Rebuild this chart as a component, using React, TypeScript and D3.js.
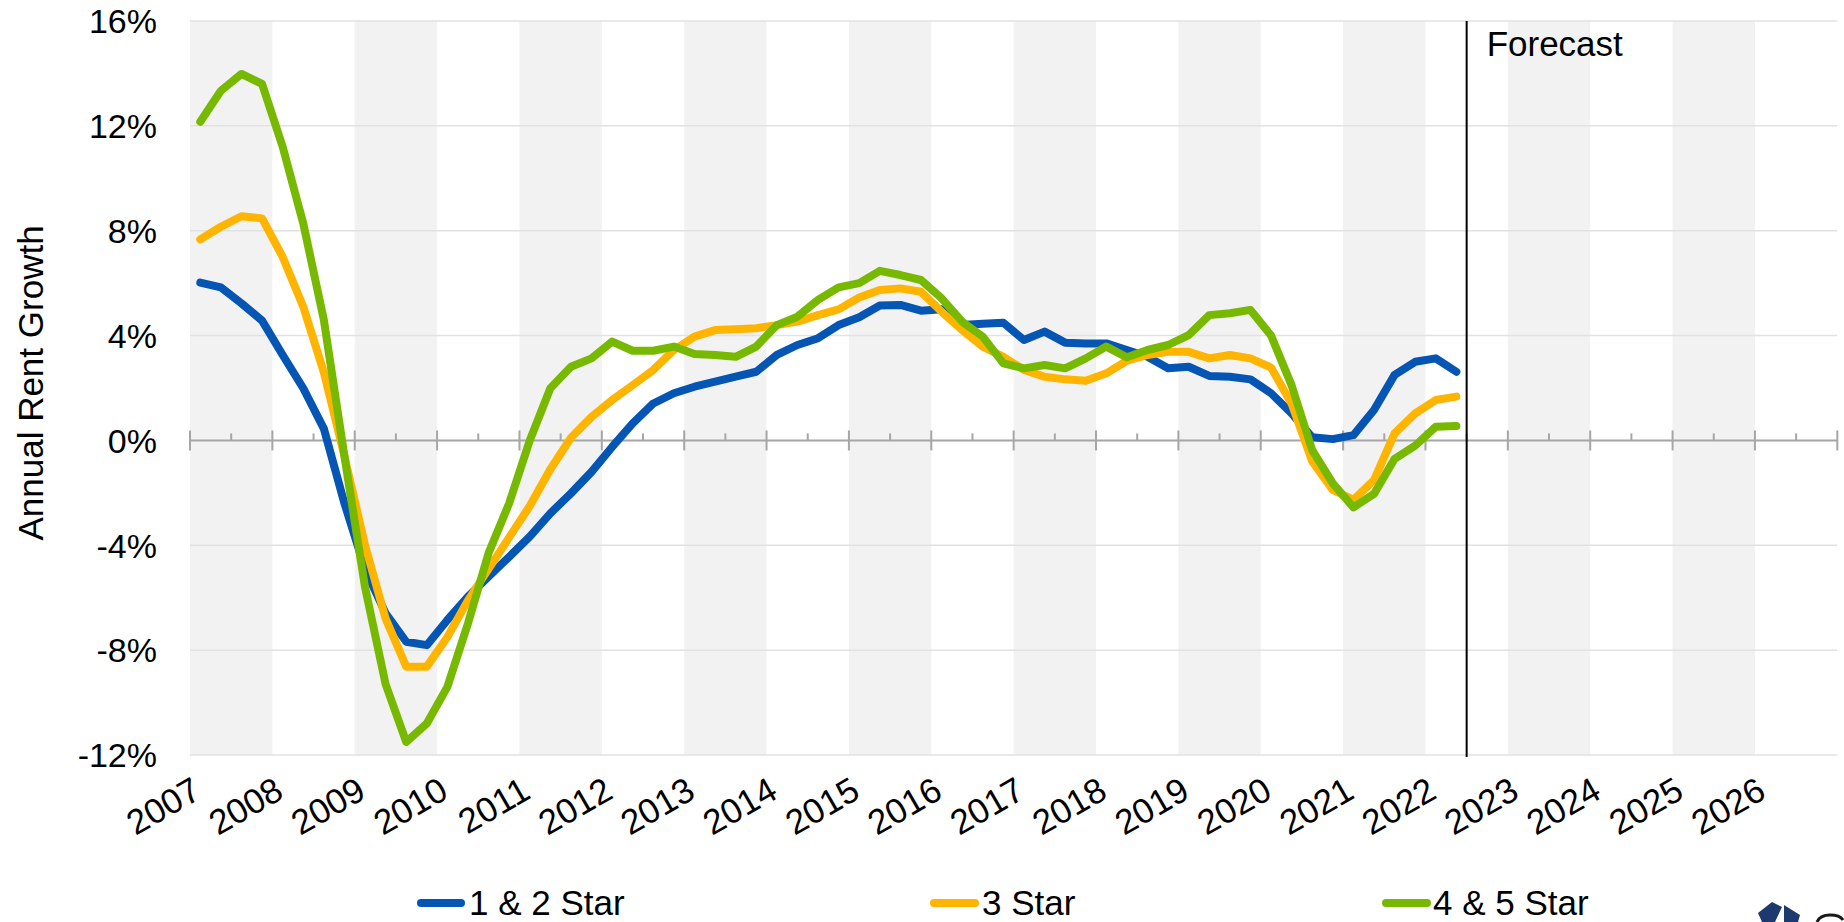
import React, { useEffect } from 'react';
import * as d3 from 'd3';

// ---- data (quarterly, 2007 Q1 .. 2022 Q2) ----
const yearLabels = d3.range(2007, 2027).map(String);
const yTickValues = [-12, -8, -4, 0, 4, 8, 12, 16];
const seriesNames = ['1 & 2 Star', '3 Star', '4 & 5 Star'];
const seriesColors = ['#0455B4', '#FFB400', '#77B900'];
const forecastLabel = 'Forecast';
const forecastStart = 2022.5;

const star12 = [
  6.02, 5.84, 5.23, 4.57, 3.26, 1.99, 0.45, -2.4,
  -4.9, -6.6, -7.68, -7.81, -6.85, -5.96, -5.2, -4.44,
  -3.67, -2.78, -2.02, -1.2, -0.25, 0.65, 1.41, 1.8,
  2.05, 2.24, 2.43, 2.62, 3.26, 3.64, 3.9, 4.4,
  4.7, 5.15, 5.17, 4.95, 5.0, 4.4, 4.45, 4.49,
  3.83, 4.15, 3.73, 3.7, 3.7, 3.45, 3.19, 2.75,
  2.81, 2.46, 2.43, 2.33, 1.8, 1.03, 0.12, 0.05,
  0.2, 1.16, 2.5, 3.0, 3.13, 2.62,
];
const star3 = [
  7.67, 8.15, 8.55, 8.47, 7.0, 5.1, 2.6, -0.6,
  -4.0, -6.8, -8.63, -8.63, -7.5, -6.1, -4.9, -3.7,
  -2.5, -1.1, 0.1, 0.9, 1.54, 2.11, 2.69, 3.45,
  3.96, 4.21, 4.24, 4.28, 4.4, 4.53, 4.78, 5.0,
  5.45, 5.74, 5.8, 5.67, 4.91, 4.21, 3.58, 3.19,
  2.69, 2.43, 2.33, 2.28, 2.56, 3.04, 3.26, 3.38,
  3.38, 3.13, 3.26, 3.13, 2.78, 1.4, -0.8, -1.89,
  -2.27, -1.51, 0.27, 1.03, 1.54, 1.67,
];
const star45 = [
  12.16, 13.34, 13.98, 13.6, 11.2, 8.28, 4.6, -0.6,
  -5.6, -9.3, -11.5, -10.8, -9.4, -6.98, -4.3, -2.4,
  0.0, 1.99, 2.81, 3.13, 3.77, 3.42, 3.42, 3.58,
  3.3, 3.26, 3.19, 3.58, 4.4, 4.72, 5.36, 5.84,
  6.0, 6.47, 6.31, 6.12, 5.42, 4.53, 3.96, 2.94,
  2.75, 2.88, 2.75, 3.13, 3.58, 3.17, 3.45, 3.64,
  4.02, 4.78, 4.85, 4.98, 4.0, 2.1, -0.37, -1.64,
  -2.55, -2.04, -0.7, -0.2, 0.52, 0.55,
];
const seriesValues = [star12, star3, star45];

const FONT = "'Liberation Sans', Arial, Helvetica, sans-serif";

export default function App() {
  useEffect(() => {
    document.body.style.margin = '0';
  }, []);

  const W = 1844;
  const H = 922;
  const left = 190;
  const right = 1837.3;
  const top = 21;
  const bottom = 755;

  const x = d3.scaleLinear().domain([2007, 2027]).range([left, right]);
  const y = d3.scaleLinear().domain([-12, 16]).range([bottom, top]);
  const qx = (i: number) => x(2007 + (i + 0.5) / 4);
  const line = d3
    .line<number>()
    .x((_, i) => qx(i))
    .y((d) => y(d));

  const years = yearLabels.map(Number);
  const halfYears = years.map((yr) => yr + 0.5);
  const allYearTicks = [...years, 2027];

  const legendItems = [
    { x1: 421, x2: 461, tx: 469 },
    { x1: 934, x2: 975, tx: 982 },
    { x1: 1386, x2: 1427, tx: 1433 },
  ];

  return (
    <svg
      width={W}
      height={H}
      viewBox={`0 0 ${W} ${H}`}
      style={{ position: 'absolute', left: 0, top: 0, background: '#fff' }}
      fontFamily={FONT}
    >
      <rect x={0} y={0} width={W} height={H} fill="#fff" />
      {/* alternating year bands */}
      {years.map((yr) =>
        yr % 2 === 1 ? (
          <rect
            key={'b' + yr}
            x={x(yr)}
            y={top}
            width={x(yr + 1) - x(yr)}
            height={bottom - top}
            fill="#f2f2f2"
          />
        ) : null
      )}
      {/* horizontal gridlines */}
      {yTickValues
        .filter((v) => v !== 0)
        .map((v) => (
          <line
            key={'g' + v}
            x1={left}
            x2={right}
            y1={y(v)}
            y2={y(v)}
            stroke="#e2e2e2"
            strokeWidth={1.5}
          />
        ))}
      {/* y tick labels */}
      {yTickValues.map((v) => (
        <text
          key={'yl' + v}
          x={157}
          y={y(v)}
          dy="0.36em"
          textAnchor="end"
          fontSize={34}
          fill="#000"
        >
          {`${v}%`}
        </text>
      ))}
      {/* y axis title */}
      <text
        transform={`translate(43, 383) rotate(-90)`}
        textAnchor="middle"
        fontSize={35}
        fill="#000"
      >
        Annual Rent Growth
      </text>
      {/* zero axis */}
      <line x1={left} x2={right} y1={y(0)} y2={y(0)} stroke="#a6a6a6" strokeWidth={2} />
      {allYearTicks.map((yr) => (
        <line
          key={'t' + yr}
          x1={x(yr)}
          x2={x(yr)}
          y1={y(0) - 10}
          y2={y(0) + 10}
          stroke="#a6a6a6"
          strokeWidth={2}
        />
      ))}
      {halfYears.map((yr) => (
        <line
          key={'m' + yr}
          x1={x(yr)}
          x2={x(yr)}
          y1={y(0) - 7}
          y2={y(0)}
          stroke="#a6a6a6"
          strokeWidth={2}
        />
      ))}
      {/* x tick labels */}
      {years.map((yr, i) => (
        <text
          key={'xl' + yr}
          transform={`translate(${x(yr) + 13}, 797) rotate(-30)`}
          textAnchor="end"
          fontSize={35}
          fill="#000"
        >
          {yearLabels[i]}
        </text>
      ))}
      {/* series */}
      {seriesValues.map((vals, si) => (
        <path
          key={'s' + si}
          d={line(vals) || ''}
          fill="none"
          stroke={seriesColors[si]}
          strokeWidth={8}
          strokeLinejoin="round"
          strokeLinecap="round"
        />
      ))}
      {/* forecast marker */}
      <line
        x1={x(forecastStart)}
        x2={x(forecastStart)}
        y1={top}
        y2={bottom + 2}
        stroke="#000"
        strokeWidth={2}
      />
      <text x={x(forecastStart) + 20} y={56} fontSize={35} fill="#000">
        {forecastLabel}
      </text>
      {/* legend */}
      {legendItems.map((it, i) => (
        <g key={'lg' + i}>
          <line
            x1={it.x1}
            x2={it.x2}
            y1={903}
            y2={903}
            stroke={seriesColors[i]}
            strokeWidth={8}
            strokeLinecap="round"
          />
          <text x={it.tx} y={915} fontSize={35} fill="#000">
            {seriesNames[i]}
          </text>
        </g>
      ))}
      {/* partial logo at bottom-right (cropped by the picture edge) */}
      <polygon
        points="1758,913 1772,902 1782,907 1775,922 1762,922"
        fill="#1d3a6e"
      />
      <polygon points="1784,905 1800,915 1798,922 1784,922" fill="#1d3a6e" />
      <path
        d="M1817,922 Q1820,915 1830,915 Q1840,915 1843,920"
        fill="none"
        stroke="#1a1a1a"
        strokeWidth={3}
      />
    </svg>
  );
}
